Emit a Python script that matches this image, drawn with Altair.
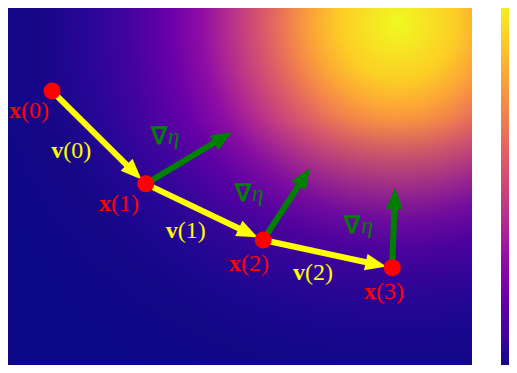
import math
import altair as alt
import pandas as pd

# ---------------- data (abstract plane units) ----------------
# iterates x(k)
point_names = ["x(0)", "x(1)", "x(2)", "x(3)"]
point_x = [0.95, 2.97, 5.50, 8.28]
point_y = [6.01, 4.01, 2.80, 2.20]

# tips of the gradient arrows ∇η drawn at x(1), x(2), x(3)
grad_tip_x = [4.83, 6.51, 8.34]
grad_tip_y = [5.13, 4.35, 3.92]

# extent of the field image and of the colour bar
field_x = [0.0, 10.0]
field_y = [0.0, 7.8]
colorbar_range = [0.02, 0.98]

# annotation text (lead glyph + tail) and anchors (boundary between the two)
label_lead = ["x", "x", "x", "x", "v", "v", "v", "∇", "∇", "∇"]
label_tail = ["(0)", "(1)", "(2)", "(3)", "(0)", "(1)", "(2)", "η", "η", "η"]
label_kind = ["point"] * 4 + ["step"] * 3 + ["grad"] * 3
label_x = [0.28, 2.22, 5.02, 7.93, 1.19, 3.66, 6.40, 3.42, 5.23, 7.59]
label_y = [5.58, 3.58, 2.28, 1.68, 4.72, 3.00, 2.09, 5.02, 3.79, 3.10]

# ---------------- styles ----------------
KIND_DOMAIN = ["point", "step", "grad"]
KIND_RANGE = ["#ff0000", "#ffff00", "#008000"]
FONT = "Liberation Serif"
FSIZE = 24
GAP = 0.13          # step arrows stop short of the next dot
SHAFT_BACK = 0.26   # shaft ends inside the head
HEAD_SHAPE = "M0,0L-0.8,2L0.8,2Z"
PX_PER_UNIT = 46.4
W, H = 464, 357

plasma_field_stops = [
    (0.000, "#f0f921"), (0.134, "#fcce25"), (0.199, "#fca636"),
    (0.249, "#f2844b"), (0.297, "#e16462"), (0.349, "#cc4778"),
    (0.403, "#b12a90"), (0.461, "#8f0da4"), (0.534, "#6a00a8"),
    (0.638, "#41049d"), (0.727, "#290697"), (0.830, "#180788"),
    (1.000, "#0d0887"),
]
shade_stops = [
    (0.00, "rgba(13,8,135,0)"), (0.31, "rgba(13,8,135,0)"),
    (1.00, "rgba(13,8,135,0.65)"),
]
plasma_bar_stops = [
    (0.000, "#150789"), (0.083, "#41049d"), (0.188, "#6a00a8"),
    (0.292, "#8f0da4"), (0.396, "#b12a90"), (0.500, "#cc4778"),
    (0.604, "#e16462"), (0.708, "#f2844b"), (0.813, "#fca636"),
    (0.917, "#fcce25"), (1.000, "#f3ee22"),
]

# ---------------- tables ----------------
field_df = pd.DataFrame({"x0": [field_x[0]], "x1": [field_x[1]],
                         "y0": [field_y[0]], "y1": [field_y[1]]})

points_df = pd.DataFrame({"name": point_names, "x": point_x, "y": point_y,
                          "kind": "point"})


def arrow(x0, y0, x1, y1, gap, kind):
    dx, dy = x1 - x0, y1 - y0
    L = math.hypot(dx, dy)
    ux, uy = dx / L, dy / L
    tx, ty = x1 - gap * ux, y1 - gap * uy
    return {"kind": kind, "sx": x0, "sy": y0,
            "ex": tx - SHAFT_BACK * ux, "ey": ty - SHAFT_BACK * uy,
            "tx": tx, "ty": ty,
            "ang": (math.degrees(math.atan2(ux, uy)) + 360) % 360}


rows = []
for k in range(len(point_x) - 1):
    rows.append(arrow(point_x[k], point_y[k], point_x[k + 1], point_y[k + 1],
                      GAP, "step"))
for k in range(len(grad_tip_x)):
    rows.append(arrow(point_x[k + 1], point_y[k + 1], grad_tip_x[k],
                      grad_tip_y[k], 0.0, "grad"))
arrows_df = pd.DataFrame(rows)

labels_df = pd.DataFrame({"lead": label_lead, "tail": label_tail,
                          "kind": label_kind, "x": label_x, "y": label_y})

# ---------------- encodings ----------------
y_top = field_y[1]
y_dom = [y_top - H / PX_PER_UNIT, y_top]
xs = alt.Scale(domain=field_x, nice=False, zero=False)
ys = alt.Scale(domain=y_dom, nice=False, zero=False)
col = alt.Color("kind:N", scale=alt.Scale(domain=KIND_DOMAIN, range=KIND_RANGE),
                legend=None)

field_enc = dict(
    x=alt.X("x0:Q", scale=xs, axis=None), x2="x1:Q",
    y=alt.Y("y0:Q", scale=ys, axis=None), y2="y1:Q",
)
field = alt.Chart(field_df).mark_rect(
    fill={"gradient": "radial", "x1": 0.8405, "y1": 0.142, "r1": 0.0,
          "x2": 0.8405, "y2": 0.142, "r2": 0.92,
          "stops": [{"offset": o, "color": c} for o, c in plasma_field_stops]},
    strokeWidth=0, clip=True,
).encode(**field_enc)

shade = alt.Chart(field_df).mark_rect(
    fill={"gradient": "linear", "x1": 0, "y1": 0, "x2": 0, "y2": 1,
          "stops": [{"offset": o, "color": c} for o, c in shade_stops]},
    strokeWidth=0, clip=True,
).encode(**field_enc)

shafts = alt.Chart(arrows_df).mark_rule(strokeWidth=6, strokeCap="butt").encode(
    x=alt.X("sx:Q", scale=xs, axis=None), x2="ex:Q",
    y=alt.Y("sy:Q", scale=ys, axis=None), y2="ey:Q",
    color=col,
)

heads = alt.Chart(arrows_df).mark_point(
    shape=HEAD_SHAPE, filled=True, size=441, opacity=1, strokeWidth=0
).encode(
    x=alt.X("tx:Q", scale=xs, axis=None),
    y=alt.Y("ty:Q", scale=ys, axis=None),
    angle=alt.Angle("ang:Q", scale=None),
    color=col,
)

dots = alt.Chart(points_df).mark_circle(size=290, opacity=1).encode(
    x=alt.X("x:Q", scale=xs, axis=None),
    y=alt.Y("y:Q", scale=ys, axis=None),
    color=col,
)

base_txt = alt.Chart(labels_df).encode(
    x=alt.X("x:Q", scale=xs, axis=None),
    y=alt.Y("y:Q", scale=ys, axis=None),
    color=col,
)
lead_bold = base_txt.mark_text(
    font=FONT, fontSize=FSIZE, fontWeight="bold", align="right",
    baseline="middle").encode(text="lead:N")
tail_plain = base_txt.transform_filter("datum.kind != 'grad'").mark_text(
    font=FONT, fontSize=FSIZE, align="left",
    baseline="middle").encode(text="tail:N")
tail_ital = base_txt.transform_filter("datum.kind == 'grad'").mark_text(
    font=FONT, fontSize=FSIZE, fontStyle="italic", align="left", dx=1,
    baseline="middle").encode(text="tail:N")

main = alt.layer(field, shade, shafts, heads, dots, lead_bold,
                 tail_plain, tail_ital).properties(width=W, height=H)

bar_df = pd.DataFrame({"x0": [0.0], "x1": [1.0],
                       "v0": [colorbar_range[0]], "v1": [colorbar_range[1]]})
cbar = alt.Chart(bar_df).mark_rect(
    fill={"gradient": "linear", "x1": 0, "y1": 1, "x2": 0, "y2": 0,
          "stops": [{"offset": o, "color": c} for o, c in plasma_bar_stops]},
    strokeWidth=0,
).encode(
    x=alt.X("x0:Q", scale=alt.Scale(domain=[0, 1], nice=False), axis=None),
    x2="x1:Q",
    y=alt.Y("v0:Q", scale=alt.Scale(domain=colorbar_range, nice=False,
                                    zero=False), axis=None),
    y2="v1:Q",
).properties(width=8, height=H)

chart = alt.hconcat(main, cbar, spacing=29).resolve_scale(
    color="independent").properties(padding=0).configure_view(stroke=None)

chart.save("out.html", embed_options={"renderer": "svg", "actions": False})
